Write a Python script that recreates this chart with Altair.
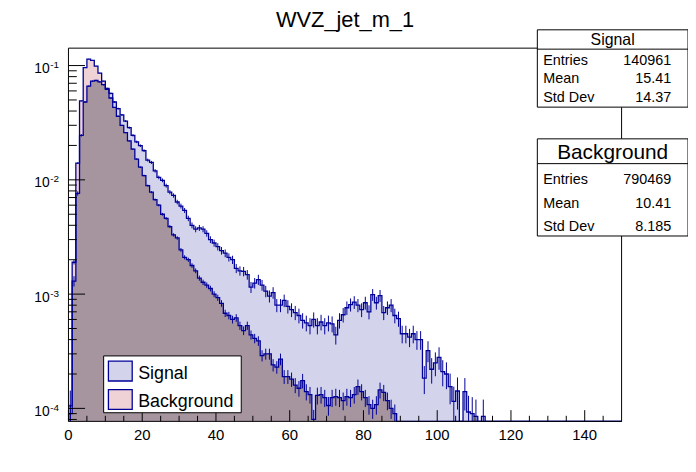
import altair as alt
import numpy as np
import pandas as pd

# ---------------- data ----------------
TITLE = "WVZ_jet_m_1"
X_MIN, X_MAX, N_BINS = 0.0, 150.0, 150
Y_MIN, Y_MAX = 7.7e-5, 0.142

SIGNAL = [
    1.05e-4, 0.0013, 0.0076, 0.0245, 0.048, 0.066, 0.073, 0.074, 0.072, 0.068,
    0.063, 0.057, 0.048, 0.042, 0.037, 0.0327, 0.0286, 0.0245, 0.0215, 0.0199,
    0.0180, 0.0149, 0.0142, 0.0120, 0.0105, 0.0099, 0.0089, 0.0078, 0.0073, 0.0064,
    0.0059, 0.0054, 0.0046, 0.0040, 0.0037, 0.0038, 0.0037, 0.0034, 0.0030, 0.0028,
    0.0026, 0.0024, 0.00228, 0.0021, 0.0020, 0.00168, 0.0016, 0.00158, 0.00148, 0.00115,
    0.00125, 0.00134, 0.0012, 0.00106, 0.00096, 0.00103, 0.0008, 0.0008, 0.00088, 0.00078,
    0.00073, 0.00069, 0.00065, 0.00059, 0.00056, 0.00053, 0.0006, 0.00053, 0.00057, 0.00053,
    0.00056, 0.00055, 0.00044, 0.00059, 0.00066, 0.00076, 0.00081, 0.00085, 0.0008, 0.00073,
    0.00084, 0.0007, 0.00099, 0.00084, 0.00097, 0.00069, 0.00076, 0.0008, 0.00065, 0.00061,
    0.00045, 0.00045, 0.00042, 0.00045, 0.0004, 0.0004, 0.000184, 0.00032, 0.00022, 0.00025,
    0.00028, 0.00021, 0.0002, 0.000155, 0.000115, 0.000142, 0.0, 0.00014, 0.000093, 0.00009,
    0.000085, 0.0, 0.000085, 0.0, 0.0, 0.0, 0.0, 0.0, 0.0, 0.0,
    0.0, 0.0, 0.0, 0.0, 0.0, 0.0, 0.0, 0.0, 0.0, 0.0,
    0.0, 0.0, 0.0, 0.0, 0.0, 0.0, 0.0, 0.0, 0.0, 0.0,
    0.0, 0.0, 0.0, 0.0, 0.0, 0.0, 0.0, 0.0, 0.0, 0.0,
]

BACKGROUND = [
    9e-5, 0.0019, 0.014, 0.049, 0.096, 0.114, 0.111, 0.099, 0.086, 0.073,
    0.062, 0.052, 0.043, 0.036, 0.030, 0.0259, 0.0219, 0.0186, 0.0152, 0.0129,
    0.0109, 0.0089, 0.0078, 0.0067, 0.0060, 0.0050, 0.0046, 0.0039, 0.0033, 0.0031,
    0.00244, 0.0021, 0.0020, 0.00178, 0.0016, 0.00138, 0.00127, 0.0012, 0.00112, 0.001,
    0.00093, 0.00083, 0.00068, 0.00065, 0.0006, 0.00062, 0.00053, 0.00048, 0.00053, 0.00044,
    0.00041, 0.00039, 0.00029, 0.0003, 0.0003, 0.00024, 0.00023, 0.00027, 0.00019, 0.00019,
    0.00018, 0.00016, 0.00015, 0.000175, 0.00014, 0.000132, 0.00008, 0.00013, 0.000132, 0.000124,
    0.000106, 0.000124, 0.000127, 0.000124, 0.000117, 0.000127, 0.000124, 0.000132, 0.000155, 0.00014,
    0.000124, 0.000108, 0.0001, 0.000108, 0.000145, 0.000138, 0.000117, 0.0001, 0.00009, 0.0,
    0.0, 0.0, 0.0, 0.0, 0.0, 0.0, 0.0, 0.0, 0.0, 0.0,
    0.0, 0.0, 0.0, 0.0, 0.0, 0.0, 0.0, 0.0, 0.0, 0.0,
    0.0, 0.0, 0.0, 0.0, 0.0, 0.0, 0.0, 0.0, 0.0, 0.0,
    0.0, 0.0, 0.0, 0.0, 0.0, 0.0, 0.0, 0.0, 0.0, 0.0,
    0.0, 0.0, 0.0, 0.0, 0.0, 0.0, 0.0, 0.0, 0.0, 0.0,
    0.0, 0.0, 0.0, 0.0, 0.0, 0.0, 0.0, 0.0, 0.0, 0.0,
]

SERIES_NAMES = ["Signal", "Background"]
STAT_LABELS = ["Entries", "Mean", "Std Dev"]
SIGNAL_STATS = ["140961", "15.41", "14.37"]
BACKGROUND_STATS = ["790469", "10.41", "8.185"]
SIGNAL_ENTRIES = 140961
BACKGROUND_ENTRIES = 790469

X_MAJOR = [0, 20, 40, 60, 80, 100, 120, 140]
X_MAJOR_LABELS = ["0", "20", "40", "60", "80", "100", "120", "140"]
X_MINOR = [5, 10, 15, 25, 30, 35, 45, 50, 55, 65, 70, 75, 85, 90, 95,
           105, 110, 115, 125, 130, 135, 145]
Y_MAJOR = [1e-4, 1e-3, 1e-2, 1e-1]
Y_MAJOR_EXP = ["-4", "-3", "-2", "-1"]
Y_MINOR = [8e-5, 9e-5,
           2e-4, 3e-4, 4e-4, 5e-4, 6e-4, 7e-4, 8e-4, 9e-4,
           2e-3, 3e-3, 4e-3, 5e-3, 6e-3, 7e-3, 8e-3, 9e-3,
           2e-2, 3e-2, 4e-2, 5e-2, 6e-2, 7e-2, 8e-2, 9e-2]

# ---------------- style ----------------
W, H = 558, 376.5
FONT = "Liberation Sans"
NAVY = "#000099"
BG_ONLY = "#efd2d5"
SIG_ONLY = "#d3d4ec"
OVERLAP = "#a6959f"
ERR_K_SIG, ERR_K_BG = 1.4, 1.7

XS = alt.Scale(domain=[X_MIN, X_MAX], nice=False, zero=False)
YS = alt.Scale(type="log", domain=[Y_MIN, Y_MAX], nice=False, clamp=True)

# ---------------- derived tables ----------------
sig = np.array(SIGNAL, dtype=float)
bg = np.array(BACKGROUND, dtype=float)
bw = (X_MAX - X_MIN) / N_BINS
edges = X_MIN + bw * np.arange(N_BINS + 1)
floor = Y_MIN * 0.1


def ext(a):
    return np.append(a, a[-1])


hist = pd.DataFrame({
    "x": edges,
    "sig": np.maximum(ext(sig), floor),
    "bg": np.maximum(ext(bg), floor),
    "ov": np.maximum(np.minimum(ext(sig), ext(bg)), floor),
})

err_rows = []
for arr, n, k in ((sig, SIGNAL_ENTRIES, ERR_K_SIG), (bg, BACKGROUND_ENTRIES, ERR_K_BG)):
    for i, v in enumerate(arr):
        if v > 0:
            e = k * np.sqrt(v / n)
            err_rows.append({"xc": edges[i] + bw / 2, "lo": max(v - e, floor), "hi": v + e})
errs = pd.DataFrame(err_rows)

ONE = pd.DataFrame({"k": [0]})


def area(field, color):
    return alt.Chart(hist).mark_area(interpolate="step-after", color=color).encode(
        x=alt.X("x:Q", scale=XS, axis=None),
        y=alt.Y(f"{field}:Q", scale=YS, axis=None),
        y2=alt.value(H),
    )


def outline(field):
    return alt.Chart(hist).mark_line(interpolate="step-after", color=NAVY, strokeWidth=1.3).encode(
        x=alt.X("x:Q", scale=XS, axis=None),
        y=alt.Y(f"{field}:Q", scale=YS, axis=None),
    )


def txt(x, y, s, size, align="left"):
    return alt.Chart(ONE).mark_text(text=s, font=FONT, fontSize=size, align=align,
                                    baseline="alphabetic", color="black").encode(
        x=alt.value(x), y=alt.value(y))


def box(x1, y1, x2, y2, fill="white", stroke="black", sw=1.0, fo=1.0):
    return alt.Chart(ONE).mark_rect(fill=fill, fillOpacity=fo, stroke=stroke, strokeWidth=sw).encode(
        x=alt.value(x1), x2=alt.value(x2), y=alt.value(y1), y2=alt.value(y2))


def hline(x1, x2, y):
    return alt.Chart(ONE).mark_rule(color="black", strokeWidth=1).encode(
        x=alt.value(x1), x2=alt.value(x2), y=alt.value(y))


layers = [
    area("bg", BG_ONLY),
    area("sig", SIG_ONLY),
    area("ov", OVERLAP),
    outline("bg"),
    outline("sig"),
    alt.Chart(errs).mark_rule(color=NAVY, strokeWidth=1).encode(
        x=alt.X("xc:Q", scale=XS, axis=None),
        y=alt.Y("lo:Q", scale=YS, axis=None),
        y2="hi:Q",
    ),
]

# ticks (inward, ROOT style)
xmaj = pd.DataFrame({"v": X_MAJOR, "lab": X_MAJOR_LABELS})
xmin_df = pd.DataFrame({"v": X_MINOR})
ymaj = pd.DataFrame({"v": Y_MAJOR, "exp": Y_MAJOR_EXP, "base": ["10"] * len(Y_MAJOR)})
ymin_df = pd.DataFrame({"v": Y_MINOR})

layers += [
    alt.Chart(xmaj).mark_rule(color="black", strokeWidth=1).encode(
        x=alt.X("v:Q", scale=XS, axis=None), y=alt.value(H), y2=alt.value(H - 11.3)),
    alt.Chart(xmin_df).mark_rule(color="black", strokeWidth=1).encode(
        x=alt.X("v:Q", scale=XS, axis=None), y=alt.value(H), y2=alt.value(H - 5.6)),
    alt.Chart(ymaj).mark_rule(color="black", strokeWidth=1).encode(
        y=alt.Y("v:Q", scale=YS, axis=None), x=alt.value(0), x2=alt.value(16.7)),
    alt.Chart(ymin_df).mark_rule(color="black", strokeWidth=1).encode(
        y=alt.Y("v:Q", scale=YS, axis=None), x=alt.value(0), x2=alt.value(8.4)),
    # frame
    box(0, 0, W, H, fill="white", fo=0.0),
    # tick labels
    alt.Chart(xmaj).mark_text(font=FONT, fontSize=15, align="center", baseline="alphabetic").encode(
        x=alt.X("v:Q", scale=XS, axis=None), y=alt.value(H + 18.5), text="lab:N"),
    alt.Chart(ymaj).mark_text(font=FONT, fontSize=14, align="right", baseline="alphabetic", dy=7.5).encode(
        y=alt.Y("v:Q", scale=YS, axis=None), x=alt.value(-19), text="base:N"),
    alt.Chart(ymaj).mark_text(font=FONT, fontSize=10, align="left", baseline="alphabetic", dy=2.5).encode(
        y=alt.Y("v:Q", scale=YS, axis=None), x=alt.value(-18.5), text="exp:N"),
]

# legend
layers += [
    box(35.5, 310.5, 174.3, 367.8),
    box(40.3, 315.8, 64.3, 335.8, fill=SIG_ONLY, stroke=NAVY, sw=1.3),
    box(40.3, 344.5, 64.3, 364.5, fill=BG_ONLY, stroke=NAVY, sw=1.3),
    txt(70.3, 333.3, SERIES_NAMES[0], 18),
    txt(70.3, 361.6, SERIES_NAMES[1], 18),
]

# stat boxes
BX1, BX2 = 473, 625
layers += [
    box(BX1, -18.5, BX2, 59.5),
    hline(BX1, BX2, 1.0),
    txt((BX1 + BX2) / 2, -3.5, SERIES_NAMES[0], 16, align="center"),
    box(BX1, 91.5, BX2, 189.5),
    hline(BX1, BX2, 116.5),
    txt((BX1 + BX2) / 2, 111.8, SERIES_NAMES[1], 21, align="center"),
]
for lab, val, yb in zip(STAT_LABELS, SIGNAL_STATS, [16.8, 35.4, 54.0]):
    layers += [txt(479, yb, lab, 14.5), txt(608, yb, val, 14.5, align="right")]
for lab, val, yb in zip(STAT_LABELS, BACKGROUND_STATS, [136.8, 161.2, 184.8]):
    layers += [txt(479, yb, lab, 14.5), txt(608, yb, val, 14.5, align="right")]

# title
layers.append(txt(W / 2, -21.5, TITLE, 22, align="center"))

chart = alt.layer(*layers).properties(
    width=W,
    height=H,
    padding={"left": 61, "top": 38.5, "right": 67, "bottom": 40},
    autosize=alt.AutoSizeParams(type="none"),
    background="white",
).configure_view(stroke=None)

chart.save("out.html", embed_options={"renderer": "svg", "actions": False})
